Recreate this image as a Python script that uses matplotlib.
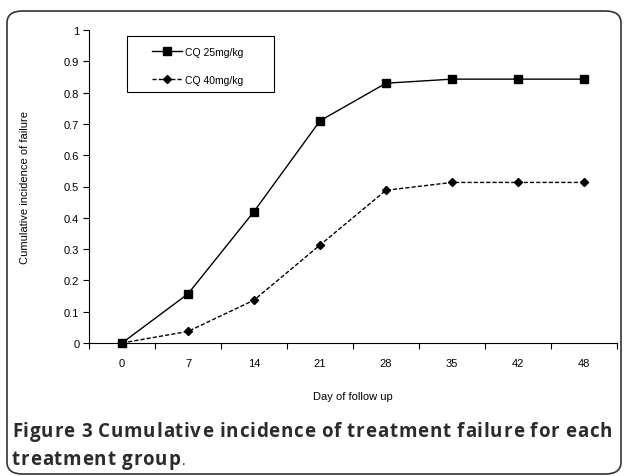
import matplotlib
matplotlib.use("Agg")
import matplotlib.pyplot as plt
from matplotlib.patches import FancyBboxPatch, Rectangle
import numpy as np

days = ["0", "7", "14", "21", "28", "35", "42", "48"]
cq25 = [0, 0.157, 0.42, 0.71, 0.83, 0.843, 0.843, 0.843]
cq40 = [0, 0.037, 0.137, 0.313, 0.488, 0.513, 0.513, 0.513]

plt.rcParams['font.family'] = ['Liberation Sans', 'DejaVu Sans']

W, H = 624, 477
fig = plt.figure(figsize=(W/100, H/100), dpi=100)
ax = fig.add_axes([89/W, 1-344/H, (617-89)/W, (344-31)/H])

x = np.arange(len(days)) + 0.5
ax.plot(x, cq25, color='black', lw=1, marker='s', ms=5.5, label='CQ 25mg/kg', clip_on=False)
ax.plot(x, cq40, color='black', lw=1, ls=(0, (3, 1.5)), marker='D', ms=4, label='CQ 40mg/kg', clip_on=False)

ax.set_xlim(0, len(days))
ax.set_ylim(0, 1)
ax.set_yticks(np.arange(0, 1.01, 0.1))
ax.set_yticklabels(["0"] + ["%.1f" % v for v in np.arange(0.1, 0.95, 0.1)] + ["1"])
ax.set_xticks(np.arange(0, len(days) + 1))
ax.set_xticklabels([])
ax.set_xticks(x, minor=True)
ax.set_xticklabels(days, minor=True)
ax.tick_params(axis='x', which='minor', length=0, pad=11, labelsize=8)
ax.tick_params(axis='x', which='major', length=4, direction='out', width=0.8)
ax.tick_params(axis='y', length=4, direction='out', width=0.8, labelsize=8, pad=3)
for s in ['top', 'right']:
    ax.spines[s].set_visible(False)

ax.set_xlabel("Day of follow up", fontsize=8, labelpad=16)
fig.text(25/W, 1-188/H, "Cumulative incidence of failure", rotation=90,
         fontsize=8, ha='center', va='center')

# legend, box drawn by hand so the padding matches
leg = ax.legend(loc='center left', bbox_to_anchor=((152-89)/528, 1-(67-31)/313),
                frameon=False, fontsize=7.5, handlelength=2.9, labelspacing=1.75,
                handletextpad=0.3, borderpad=0, borderaxespad=0)
fig.patches.append(Rectangle((127/W, 1-93/H), (274-127)/W, (93-37)/H,
                             transform=fig.transFigure, fill=False,
                             edgecolor='black', lw=0.8))

# caption, letter-spaced like the journal's justified text
cap = ['Open Sans', 'DejaVu Sans']
FS = 13.5
r = fig.canvas.get_renderer()


def width(s, wt):
    t = fig.text(0, 0, s, fontsize=FS, family=cap, fontweight=wt)
    w = t.get_window_extent(r).width
    t.remove()
    return w


def advance(c, wt):
    # averaged over repeats to get sub-pixel widths
    return (width("x" + c * 10 + "x", wt) - width("xx", wt)) / 10


def spaced(s, wt, x0, y, track):
    xx = x0
    for c in s:
        fig.text(xx/W, 1-y/H, c, fontsize=FS, family=cap, fontweight=wt,
                 color='#2b2b2b', va='baseline')
        xx += advance(c, wt) + track
    return xx


line1 = "Figure 3 Cumulative incidence of treatment failure for each"
nat = sum(advance(c, 'bold') for c in line1)
track = (600 - nat) / (len(line1) - 1)
spaced(line1, 'bold', 12, 437, track)
end = spaced("treatment group", 'bold', 12, 465, track)
fig.text((end + 1)/W, 1-465/H, ".", fontsize=10, family=cap, color='#2b2b2b', va='baseline')

frame = FancyBboxPatch((7/W, 2/H), 614/W, 463/H, transform=fig.transFigure,
                       boxstyle="round,pad=0,rounding_size=0.025", fill=False,
                       edgecolor='#333333', lw=1.2)
fig.patches.append(frame)

fig.savefig("out.png", dpi=100)
